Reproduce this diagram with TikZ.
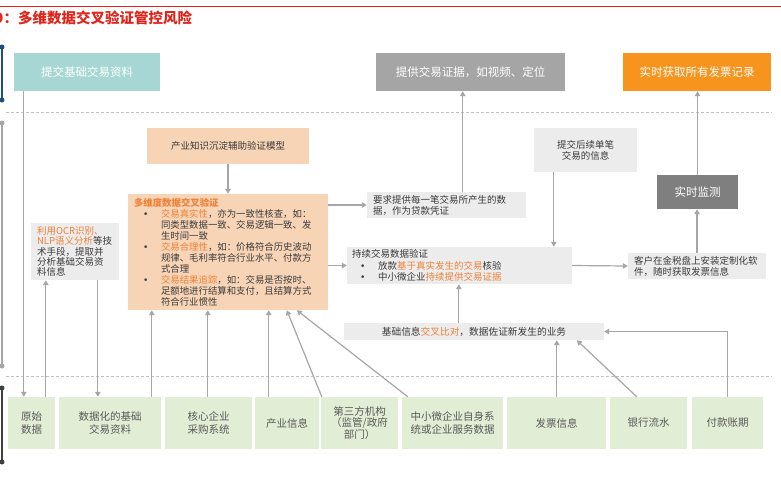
\documentclass[tikz,border=0pt]{standalone}
\usepackage{fontspec}
\setmainfont{Noto Sans CJK SC}
\newfontfamily\bulfont{DejaVu Sans}
\usetikzlibrary{arrows.meta,calc}
\definecolor{tred}{HTML}{E2231A}
\definecolor{torg}{HTML}{EE8138}
\definecolor{cteal}{HTML}{A7D7D4}
\definecolor{cgrayt}{HTML}{A5A5A5}
\definecolor{corgt}{HTML}{F7941D}
\definecolor{cpeach}{HTML}{F8D4B6}
\definecolor{clgray}{HTML}{ECECEC}
\definecolor{cmon}{HTML}{7F7F7F}
\definecolor{cgreen}{HTML}{E2EDD5}
\definecolor{ctext}{HTML}{3A3A3A}
\definecolor{cbot}{HTML}{595959}
\definecolor{cline}{HTML}{A6A6A6}
\definecolor{cblue}{HTML}{1F4E79}
\definecolor{cdash}{HTML}{BFBFBF}
\definecolor{cdark}{HTML}{404040}
\newcommand{\fsz}[2]{\fontsize{#1pt}{#2pt}\selectfont}
\newcommand{\og}[1]{{\color{torg}#1}}
\newcommand{\bdot}{{\bulfont\fsz{9}{9}•}}
\newcommand{\bulA}{\hspace*{9pt}\makebox[18pt][l]{\bdot}}
\newcommand{\indA}{\hspace*{27pt}}
\newcommand{\bulB}{\hspace*{8pt}\makebox[18pt][l]{\bdot}}
\begin{document}
\begin{tikzpicture}[x=1pt,y=-1pt,
  basebox/.style={inner sep=0pt, align=center, text=ctext},
  topbox/.style={basebox, text=white, font=\fsz{11.5}{13}, minimum height=38pt},
  greybox/.style={basebox, fill=clgray, font=\fsz{9.5}{11}},
  botbox/.style={basebox, fill=cgreen, text=cbot, font=\fsz{10.5}{12.5}, minimum height=52pt},
  conn/.style={draw=cline, line width=1.2pt, -{Triangle[width=5.5pt,length=5pt]}},
  bracket/.style={line width=2pt}
]
\useasboundingbox (0,0) rectangle (781,491);
% title
\draw[tred, line width=1pt] (0,6) -- (781,6);
\node[anchor=west, font=\fsz{14.5}{16}\bfseries, text=tred, inner sep=0pt] (title) at (-5.5,18) {9：多维数据交叉验证管控风险};
% left brackets
\draw[cblue, bracket] (2,47) -- (2,100);
\fill[cblue] (2,47) circle (2.5pt) (2,100) circle (2.5pt);
\draw[cline, bracket] (2,123) -- (2,366);
\fill[cline] (2,123) circle (2.5pt) (2,366) circle (2.5pt);
\draw[cdark, bracket] (2,388) -- (2,462);
\fill[cdark] (2,388) circle (2.5pt) (2,462) circle (2.5pt);
% dashed separators
\draw[cdash, line width=0.8pt, dash pattern=on 3pt off 2pt] (6,112.5) -- (772,112.5);
\draw[cdash, line width=0.8pt, dash pattern=on 3pt off 2pt] (6,376) -- (772,376);
% top boxes
\node[topbox, fill=cteal, minimum width=146pt] (teal) at (87,72) {提交基础交易资料};
\node[topbox, fill=cgrayt, minimum width=189pt] (gt) at (470.5,72) {提供交易证据，如视频、定位};
\node[topbox, fill=corgt, minimum width=148pt] (ot) at (697,72) {实时获取所有发票记录};
% middle
\node[basebox, fill=cpeach, font=\fsz{9.5}{11}, minimum width=162pt, minimum height=36pt] (model) at (228,146) {产业知识沉淀辅助验证模型};
\node[basebox, fill=cpeach, font=\fsz{9.4}{11}, align=left, inner xsep=6pt, text width=188pt, minimum height=116pt] (big) at (228,252) {%
{\color{torg}\bfseries 多维度数据交叉验证}\\
\bulA\og{交易真实性}，亦为一致性核查，如：\\
\indA 同类型数据一致、交易逻辑一致、发\\
\indA 生时间一致\\
\bulA\og{交易合理性}，如：价格符合历史波动\\
\indA 规律、毛利率符合行业水平、付款方\\
\indA 式合理\\
\bulA\og{交易结果追踪}，如：交易是否按时、\\
\indA 足额地进行结算和支付，且结算方式\\
\indA 符合行业惯性};
\node[greybox, font=\fsz{9.5}{10.3}, align=left, inner xsep=6pt, text width=76pt, minimum height=57pt] (ocr) at (75,251.5) {%
\og{利用OCR识别、}\\
\og{NLP语义分析}等技\\
术手段，提取并\\
分析基础交易资\\
料信息};
\node[greybox, align=left, inner xsep=6pt, text width=147pt, minimum height=26pt] (yq) at (446.5,205) {要求提供每一笔交易所产生的数\\据，作为贷款凭证};
\node[greybox, font=\fsz{9.5}{11.5}, align=left, inner xsep=5pt, text width=215pt, minimum height=37pt] (cx) at (459.5,265.5) {%
持续交易数据验证\\
\bulB 放款\og{基于真实发生的交易}核验\\
\bulB 中小微企业\og{持续提供交易证据}};
\node[greybox, minimum width=103pt, minimum height=44pt] (tj) at (585.5,150) {提交后续单笔\\交易的信息};
\node[basebox, fill=cmon, text=white, font=\fsz{11.5}{13}, minimum width=81pt, minimum height=34pt] (ss) at (697.5,192) {实时监测};
\node[greybox, align=left, inner xsep=6pt, text width=126pt, minimum height=26pt] (kh) at (697,266) {客户在金税盘上安装定制化软\\件，随时获取发票信息};
\node[greybox, font=\fsz{9.7}{11}, minimum width=260pt, minimum height=17pt] (jc) at (474,331.5) {基础信息\og{交叉比对}，数据佐证新发生的业务};
% bottom row
\node[botbox, minimum width=47pt] (ys) at (31.5,423) {原始\\数据};
\node[botbox, minimum width=102pt] (szh) at (110,423) {数据化的基础\\交易资料};
\node[botbox, minimum width=87pt] (hx) at (208.5,423) {核心企业\\采购系统};
\node[botbox, minimum width=64pt] (cy) at (287,423) {产业信息};
\node[botbox, minimum width=77pt, font=\fsz{10.5}{11.5}] (dsf) at (359.5,423) {第三方机构\\（监管/政府\\部门）};
\node[botbox, minimum width=101pt] (zx) at (452.5,423) {中小微企业自身系\\统或企业服务数据};
\node[botbox, minimum width=99pt] (fp) at (556.5,423) {发票信息};
\node[botbox, minimum width=77pt] (yh) at (648.5,423) {银行流水};
\node[botbox, minimum width=71pt] (fk) at (727.5,423) {付款账期};
% connectors
\draw[conn] ([xshift=10pt]teal.south west) -- ([xshift=16pt]ys.north west);
\draw[conn] ([xshift=38pt]ys.north west) -- ([xshift=15pt]ocr.south west);
\draw[conn] ([xshift=67pt]ocr.south west) -- ([xshift=39pt]szh.north west);
\draw[conn] ([xshift=93pt]szh.north west) -- ([xshift=24pt]big.south west);
\draw[conn] ([xshift=43pt]hx.north west) -- ([xshift=80pt]big.south west);
\draw[conn] ([xshift=14pt]cy.north west) -- ([xshift=141pt]big.south west);
\draw[conn] ([xshift=1pt]dsf.north west) -- ([xshift=159pt]big.south west);
\draw[conn] ([xshift=6pt]zx.north west) -- ([xshift=169pt]big.south west);
\draw[conn] (model.south) -- (big.north);
\draw[conn] (big.east |- yq.west) -- (yq.west);
\draw[conn] (big.east |- cx.west) -- (cx.west);
\draw[conn] ([xshift=96pt]yq.north west) -- ([xshift=87pt]gt.south west);
\draw[conn] ([xshift=20pt]tj.south west) -- ([xshift=207pt]cx.north west);
\draw[conn] (cx.east) -- (kh.west);
\draw[conn] (kh.north) -- (kh.north |- ss.south);
\draw[conn] (ss.north) -- (ss.north |- ot.south);
\draw[conn] ([xshift=115pt]jc.north west) -- ([xshift=112pt]cx.south west);
\draw[conn] ([xshift=50pt]fp.north west) -- ([xshift=213pt]jc.south west);
\draw[conn] ([xshift=27pt]yh.north west) -- ([xshift=233pt]jc.south west);
\draw[conn] (fk.north) |- (jc.east);
\end{tikzpicture}
\end{document}
